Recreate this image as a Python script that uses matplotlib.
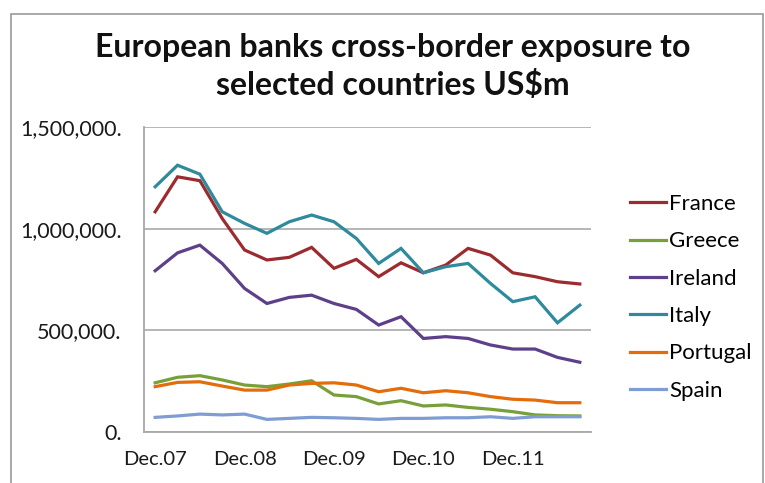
import matplotlib.pyplot as plt
from matplotlib.ticker import FuncFormatter
from matplotlib.patches import Rectangle

# quarterly, Dec.07 .. Sep.12
quarters = ['Dec.07', 'Mar.08', 'Jun.08', 'Sep.08', 'Dec.08', 'Mar.09', 'Jun.09', 'Sep.09',
            'Dec.09', 'Mar.10', 'Jun.10', 'Sep.10', 'Dec.10', 'Mar.11', 'Jun.11', 'Sep.11',
            'Dec.11', 'Mar.12', 'Jun.12', 'Sep.12']

france = [1083000, 1255000, 1236000, 1050000, 895000, 846000, 859000, 908000, 805000, 849000,
          764000, 832000, 783000, 821000, 903000, 870000, 783000, 764000, 739000, 728000]
greece = [242000, 269000, 277000, 256000, 231000, 223000, 236000, 252000, 182000, 174000,
          138000, 154000, 128000, 133000, 121000, 112000, 100000, 84000, 80000, 79000]
ireland = [793000, 881000, 919000, 829000, 706000, 632000, 662000, 673000, 632000, 603000,
           526000, 567000, 460000, 469000, 460000, 428000, 408000, 408000, 367000, 343000]
italy = [1206000, 1312000, 1268000, 1083000, 1026000, 977000, 1034000, 1067000, 1034000, 952000,
         829000, 903000, 783000, 813000, 829000, 731000, 641000, 665000, 537000, 624000]
portugal = [223000, 244000, 247000, 226000, 206000, 206000, 231000, 239000, 242000, 231000,
            198000, 215000, 193000, 203000, 193000, 174000, 161000, 157000, 144000, 144000]
spain = [72000, 79000, 88000, 84000, 88000, 62000, 67000, 72000, 70000, 67000,
         62000, 67000, 67000, 70000, 70000, 75000, 67000, 75000, 75000, 75000]

series = [('France', france, '#9C2B2F'),
          ('Greece', greece, '#77A03A'),
          ('Ireland', ireland, '#5E3F8A'),
          ('Italy', italy, '#2E8A9C'),
          ('Portugal', portugal, '#E46C0A'),
          ('Spain', spain, '#7F9DD3')]

plt.rcParams['font.family'] = ['Lato', 'DejaVu Sans']

fig = plt.figure(figsize=(7.65, 4.83), dpi=100)
fig.patches.append(Rectangle((11 / 765, -0.1), 752 / 765, 1.1 - 14 / 483, transform=fig.transFigure,
                             fill=False, edgecolor='#9A9A9A', linewidth=1.2))

ax = fig.add_axes([144 / 765, 1 - 432 / 483, 447 / 765, 305 / 483])
x = list(range(len(quarters)))
for name, vals, col in series:
    ax.plot(x, vals, color=col, linewidth=2.3, label=name, solid_joinstyle='miter')

ax.set_xlim(-0.5, len(quarters) - 0.5)
ax.set_ylim(0, 1500000)
ax.set_yticks([0, 500000, 1000000, 1500000])
ax.yaxis.set_major_formatter(FuncFormatter(lambda v, p: f'{int(v):,}.'))
ax.set_xticks(x[::4])
ax.set_xticklabels(quarters[::4])
ax.tick_params(axis='both', length=0, colors='#1a1a1a')
ax.tick_params(axis='y', pad=16, labelsize=15.5)
ax.tick_params(axis='x', pad=14, labelsize=14.5)
ax.grid(axis='y', color='#B0B0B0', linewidth=1.3)
ax.set_axisbelow(True)
for s in ['top', 'right']:
    ax.spines[s].set_visible(False)
for s in ['left', 'bottom']:
    ax.spines[s].set_color('#A8A8A8')
    ax.spines[s].set_linewidth(1.3)

fig.text(393 / 765, 1 - 48 / 483, 'European banks cross-border exposure to', ha='center', va='center',
         fontsize=23, fontweight='bold', color='#111111')
fig.text(393 / 765, 1 - 85 / 483, 'selected countries US$m', ha='center', va='center',
         fontsize=23, fontweight='bold', color='#111111')

leg = ax.legend(loc='upper left', bbox_to_anchor=(630 / 765, 1 - 194 / 483), bbox_transform=fig.transFigure,
                frameon=False, fontsize=16, handlelength=1.6, handletextpad=0.15, labelspacing=0.78,
                borderpad=0, borderaxespad=0)

fig.savefig('out.png', dpi=100)
